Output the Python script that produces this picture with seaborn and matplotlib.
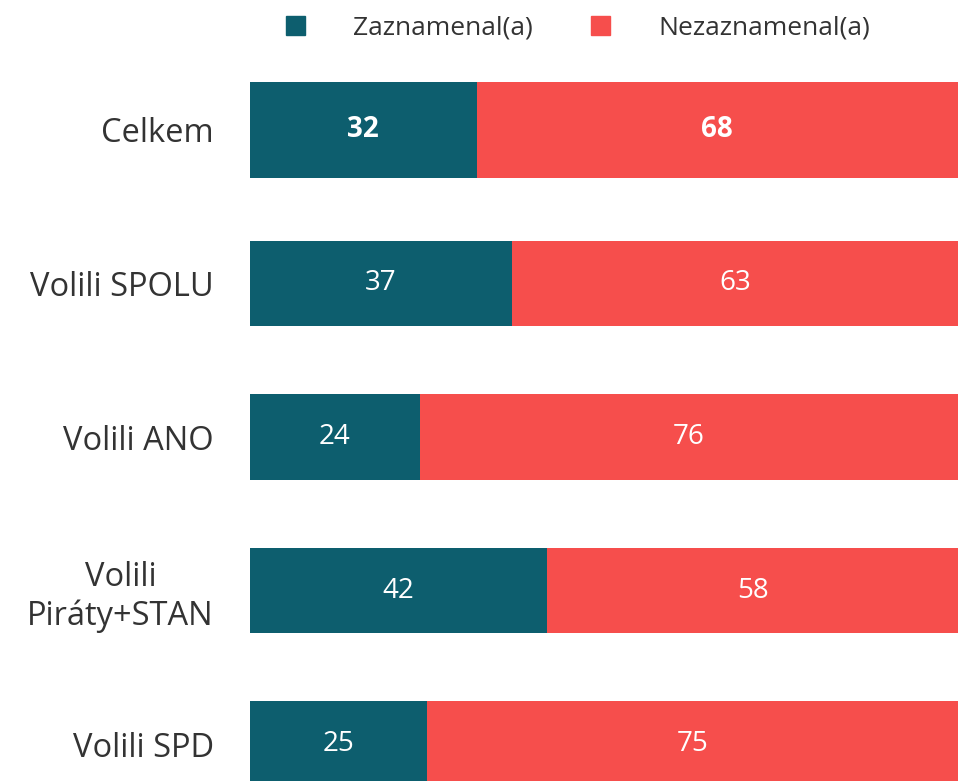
import matplotlib
matplotlib.use("Agg")
import matplotlib.pyplot as plt
import seaborn as sns
import pandas as pd
from matplotlib.patches import Patch

categories = ["Celkem", "Volili SPOLU", "Volili ANO", "Volili\nPiráty+STAN", "Volili SPD"]
zaznamenal = [32, 37, 24, 42, 25]
nezaznamenal = [68, 63, 76, 58, 75]
series_names = ["Zaznamenal(a)", "Nezaznamenal(a)"]

TEAL = "#0D5E6E"
RED = "#F64E4C"
TEXT = "#333333"

sns.set_theme(style="white")
plt.rcParams["font.family"] = ["Open Sans", "DejaVu Sans"]

df = pd.DataFrame({"cat": categories, "z": zaznamenal, "n": nezaznamenal})
df["total"] = df["z"] + df["n"]

fig = plt.figure(figsize=(9.58, 7.81), dpi=100)
ax = fig.add_axes([250 / 958, 0, 708 / 958, 721 / 781])

bw = 0.554
sns.barplot(data=df, x="total", y="cat", color=RED, width=bw, ax=ax, saturation=1, orient="h")
sns.barplot(data=df, x="z", y="cat", color=TEAL, width=bw, ax=ax, saturation=1, orient="h")

# taller highlighted "Celkem" bar
big = 0.625
for p in ax.patches:
    cy = p.get_y() + p.get_height() / 2
    if abs(cy - 0) < 0.01:
        p.set_y(cy - big / 2)
        p.set_height(big)
    p.set_linewidth(0)

for i, (z, n) in enumerate(zip(zaznamenal, nezaznamenal)):
    w = "bold" if i == 0 else "normal"
    ax.text(z / 2, i, str(z), ha="center", va="center", color="white", fontsize=20, fontweight=w)
    ax.text(z + n / 2, i, str(n), ha="center", va="center", color="white", fontsize=20, fontweight=w)

ax.set_xlim(0, 100)
ax.set_ylim(4.241, -0.456)
ax.set_xlabel("")
ax.set_ylabel("")
ax.set_xticks([])
ax.tick_params(axis="y", length=0, pad=26, labelsize=23.5, labelcolor=TEXT)
for lbl in ax.get_yticklabels():
    lbl.set_multialignment("center")
sns.despine(ax=ax, left=True, bottom=True, top=True, right=True)

handles = [Patch(color=TEAL, label=series_names[0]), Patch(color=RED, label=series_names[1])]
fig.legend(handles=handles, loc="center", bbox_to_anchor=(0.603, 0.964), ncol=2, frameon=False,
           fontsize=19, handlelength=0.75, handleheight=0.75, columnspacing=2.2, handletextpad=1.8,
           labelcolor=TEXT)

fig.savefig("out.png", dpi=100)
